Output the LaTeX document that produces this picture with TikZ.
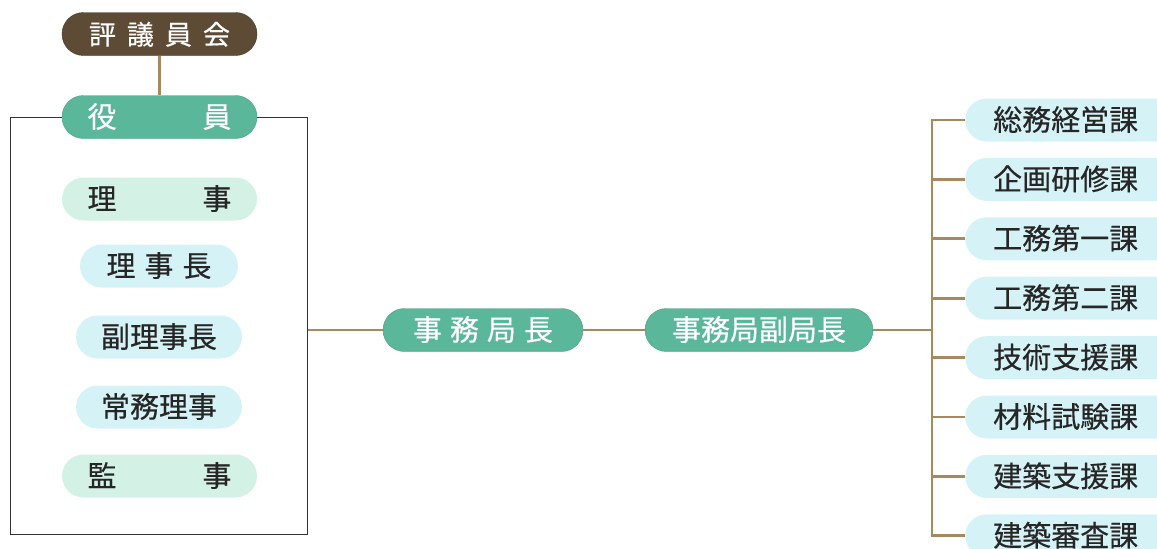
\documentclass[tikz,border=0pt]{standalone}
\usepackage{fontspec}
\setmainfont[FakeBold=0.4,AutoFakeBold=0.4]{Noto Sans CJK JP}
\usepackage{tikz}
\usetikzlibrary{positioning}
\definecolor{kaibrown}{HTML}{5E4B35}
\definecolor{linkbrown}{HTML}{A8895F}
\definecolor{pillgreen}{HTML}{5BB799}
\definecolor{pillmint}{HTML}{D3F2E5}
\definecolor{pillcyan}{HTML}{D5F3F7}
\tikzset{pill/.style={rectangle,rounded corners=21.5pt,minimum height=43pt,inner ysep=0pt,
		text height=22pt,text depth=1pt,font=\fontsize{29}{34}\selectfont},
	 kaigi/.style={pill,fill=kaibrown,draw=kaibrown!70!black,text=white,font=\fontsize{27}{32}\selectfont},
	 gpill/.style={pill,fill=pillgreen,draw=pillgreen!85!black,text=white},
	 mpill/.style={pill,fill=pillmint,text=black!85},
	 cpill/.style={pill,fill=pillcyan,text=black!85},
	 sect/.style={cpill,anchor=west,text width=180pt,align=left,inner xsep=28pt},
	 link/.style={draw=linkbrown,line width=2.8pt},
	 node distance = 16pt
	 }

\begin{document}
\begin{tikzpicture}[x=1pt,y=-1pt] % organisation chart
	\clip (0,0) rectangle (1157,549);
	\node[draw=black!80,line width=1pt,minimum width=297pt,minimum height=417pt] (board) at (158.5,325.5) {};
	\node[kaigi,minimum width=195pt] (council) at (159.5,34) {評\hspace{11pt}議\hspace{11pt}員\hspace{11pt}会};
	\node[gpill,minimum width=195pt] (officers) at (159.5,117) {役\hspace{86pt}員};
	\node[mpill,minimum width=195pt] (riji) at (159.5,199) {理\hspace{86pt}事};
	\node[cpill,minimum width=158pt] (chair) at (159,266) {理\hspace{9pt}事\hspace{9pt}長};
	\node[cpill,minimum width=166pt] (vchair) at (159,337) {副理事長};
	\node[cpill,minimum width=166pt] (exec) at (159,407) {常務理事};
	\node[mpill,minimum width=195pt] (audit) at (159.5,476) {監\hspace{86pt}事};
	\draw[link] (council) -- (officers);

	\node[gpill,minimum width=200pt] (chief) at (483,330) {事\hspace{8pt}務\hspace{8pt}局\hspace{8pt}長};
	\node[gpill,minimum width=228pt] (vice) at (759,330) {事務局副局長};
	\draw[link] (board.east |- chief.west) -- (chief.west);
	\draw[link] (chief) -- (vice);

	\node[sect] (s1) at (965,120) {総務経営課};
	\node[sect] (s2) [below=of s1] {企画研修課};
	\node[sect] (s3) [below=of s2] {工務第一課};
	\node[sect] (s4) [below=of s3] {工務第二課};
	\node[sect] (s5) [below=of s4] {技術支援課};
	\node[sect] (s6) [below=of s5] {材料試験課};
	\node[sect] (s7) [below=of s6] {建築支援課};
	\node[sect] (s8) [below=of s7] {建築審査課};
	\coordinate (bus) at (932,330);
	\draw[link] (vice) -- (bus);
	\draw[link] (s1.west) -- (s1.west -| bus) -- (s8.west -| bus) -- (s8.west);
	\draw[link] (s2.west) -- (s2.west -| bus);
	\draw[link] (s3.west) -- (s3.west -| bus);
	\draw[link] (s4.west) -- (s4.west -| bus);
	\draw[link] (s5.west) -- (s5.west -| bus);
	\draw[link] (s6.west) -- (s6.west -| bus);
	\draw[link] (s7.west) -- (s7.west -| bus);
\end{tikzpicture}
\end{document}
